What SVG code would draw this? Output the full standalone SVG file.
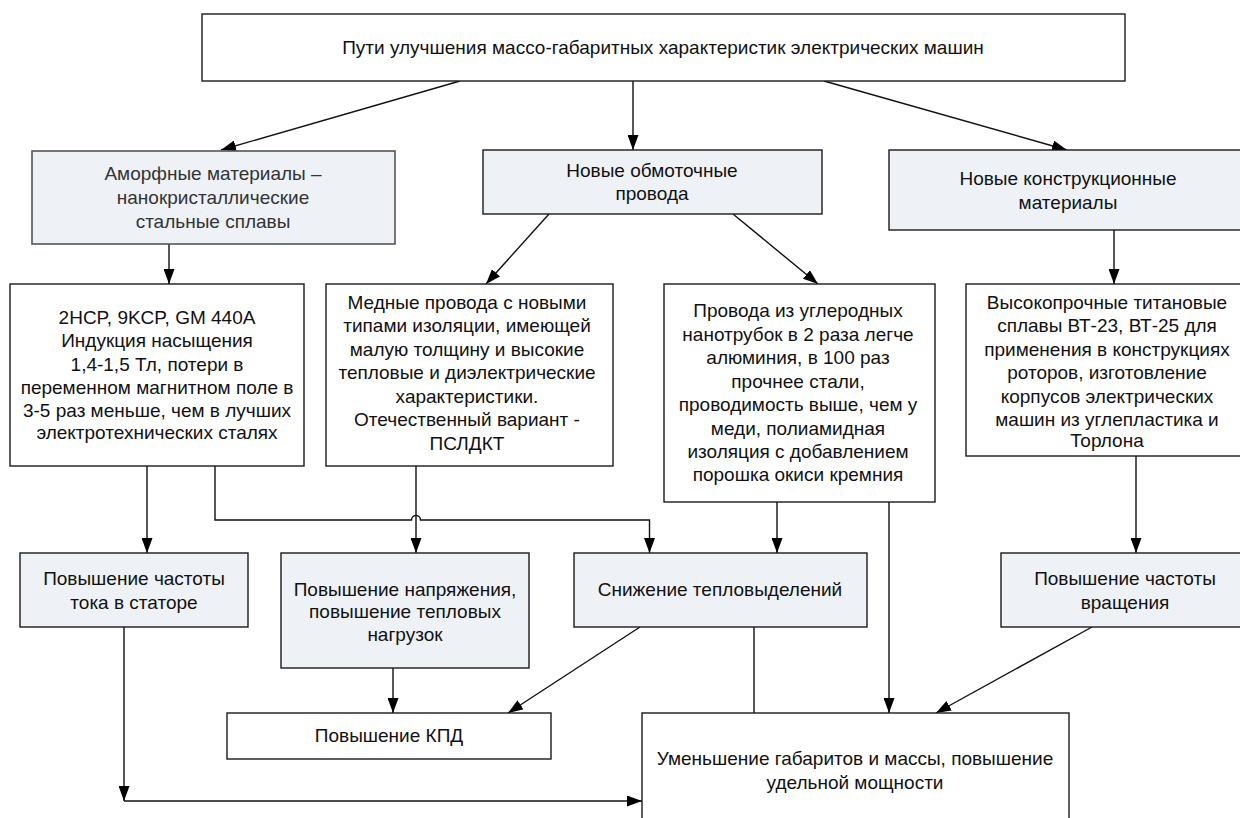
<svg xmlns="http://www.w3.org/2000/svg" width="1240" height="818" viewBox="0 0 1240 818">
<style>
.box{stroke:#1a1a1a;stroke-width:1.4;fill:#ffffff}
.g{fill:#eef1f6}
.am{stroke:#555;stroke-width:1.6}
text{font-family:"Liberation Sans",Arial,sans-serif;font-size:19px;fill:#111;text-anchor:middle}
.amt{fill:#333}
.c{stroke:#111;stroke-width:1.4;fill:none}
.a{marker-end:url(#ah)}
</style>
<defs>
<marker id="ah" viewBox="0 0 15 11" refX="15" refY="5.5" markerWidth="15" markerHeight="11" markerUnits="userSpaceOnUse" orient="auto">
<path d="M0,0 L15,5.5 L0,11 z" fill="#000"/>
</marker>
</defs>
<rect width="1240" height="818" fill="#fff"/>
<g id="connectors">
<line class="c a" x1="460" y1="81" x2="221" y2="150"/>
<line class="c a" x1="633" y1="81" x2="633" y2="150"/>
<line class="c a" x1="824" y1="81" x2="1067" y2="150"/>
<line class="c a" x1="169" y1="244" x2="169" y2="284"/>
<line class="c a" x1="549" y1="214" x2="486" y2="284"/>
<line class="c a" x1="733" y1="214" x2="818" y2="284"/>
<line class="c a" x1="1114" y1="230" x2="1114" y2="284"/>
<line class="c a" x1="147" y1="466" x2="147" y2="553"/>
<path class="c a" d="M215,466 V520 H411.5 A4.5,4.5 0 0 1 420.5,520 H649.5 V553"/>
<line class="c a" x1="416" y1="466" x2="416" y2="553"/>
<line class="c a" x1="777" y1="502" x2="777" y2="553"/>
<line class="c a" x1="889" y1="502" x2="889" y2="713"/>
<line class="c a" x1="1136" y1="456" x2="1136" y2="553"/>
<line class="c a" x1="124" y1="627" x2="124" y2="801"/>
<line class="c a" x1="124" y1="801" x2="642" y2="801"/>
<line class="c a" x1="393" y1="668" x2="393" y2="713"/>
<line class="c a" x1="640" y1="627" x2="508" y2="713"/>
<line class="c" x1="754" y1="627" x2="754" y2="713"/>
<line class="c a" x1="1092" y1="627" x2="936" y2="713"/>
</g>
<g id="top">
<rect class="box" x="202" y="14" width="923" height="67"/>
<text x="663" y="54">Пути улучшения массо-габаритных характеристик электрических машин</text>
</g>
<g id="amorph">
<rect class="box g am" x="32" y="151" width="363" height="93"/>
<text class="amt" x="213" y="180">Аморфные материалы –</text>
<text class="amt" x="213" y="204">нанокристаллические</text>
<text class="amt" x="213" y="228">стальные сплавы</text>
</g>
<g id="wires">
<rect class="box g" x="483" y="150" width="339" height="64"/>
<text x="652" y="177">Новые обмоточные</text>
<text x="652" y="200">провода</text>
</g>
<g id="constr">
<rect class="box g" x="889" y="150" width="360" height="80"/>
<text x="1068" y="185">Новые конструкционные</text>
<text x="1068" y="209">материалы</text>
</g>
<g id="amorph-detail">
<rect class="box" x="10" y="284" width="294" height="182"/>
<text x="157" y="324">2HCP, 9KCP, GM 440A</text>
<text x="157" y="347">Индукция насыщения</text>
<text x="157" y="371">1,4-1,5 Тл, потери в</text>
<text x="157" y="394">переменном магнитном поле в</text>
<text x="157" y="417">3-5 раз меньше, чем в лучших</text>
<text x="157" y="439">электротехнических сталях</text>
</g>
<g id="copper">
<rect class="box" x="326" y="284" width="287" height="182"/>
<text x="467" y="309">Медные провода с новыми</text>
<text x="467" y="332">типами изоляции, имеющей</text>
<text x="467" y="356">малую толщину и высокие</text>
<text x="467" y="379">тепловые и диэлектрические</text>
<text x="467" y="403">характеристики.</text>
<text x="467" y="426">Отечественный вариант -</text>
<text x="467" y="450">ПСЛДКТ</text>
</g>
<g id="nanotube">
<rect class="box" x="664" y="284" width="271" height="218"/>
<text x="798" y="317">Провода из углеродных</text>
<text x="798" y="341">нанотрубок в 2 раза легче</text>
<text x="798" y="364">алюминия, в 100 раз</text>
<text x="798" y="388">прочнее стали,</text>
<text x="798" y="411">проводимость выше, чем у</text>
<text x="798" y="435">меди, полиамидная</text>
<text x="798" y="458">изоляция с добавлением</text>
<text x="798" y="481">порошка окиси кремния</text>
</g>
<g id="titanium">
<rect class="box" x="966" y="284" width="283" height="172"/>
<text x="1107" y="309">Высокопрочные титановые</text>
<text x="1107" y="332">сплавы ВТ-23, ВТ-25 для</text>
<text x="1107" y="356">применения в конструкциях</text>
<text x="1107" y="379">роторов, изготовление</text>
<text x="1107" y="403">корпусов электрических</text>
<text x="1107" y="426">машин из углепластика и</text>
<text x="1107" y="447">Торлона</text>
</g>
<g id="freq-current">
<rect class="box g" x="20" y="553" width="228" height="74"/>
<text x="134" y="585">Повышение частоты</text>
<text x="134" y="609">тока в статоре</text>
</g>
<g id="voltage">
<rect class="box g" x="281" y="553" width="248" height="115"/>
<text x="405" y="596">Повышение напряжения,</text>
<text x="405" y="618">повышение тепловых</text>
<text x="405" y="641">нагрузок</text>
</g>
<g id="heat">
<rect class="box g" x="574" y="553" width="293" height="74"/>
<text x="720" y="596">Снижение тепловыделений</text>
</g>
<g id="freq-rot">
<rect class="box g" x="1001" y="553" width="248" height="74"/>
<text x="1125" y="585">Повышение частоты</text>
<text x="1125" y="609">вращения</text>
</g>
<g id="efficiency">
<rect class="box" x="227" y="713" width="324" height="46"/>
<text x="389" y="742">Повышение КПД</text>
</g>
<g id="result">
<rect class="box" x="642" y="713" width="427" height="120"/>
<text x="855" y="765">Уменьшение габаритов и массы, повышение</text>
<text x="855" y="789">удельной мощности</text>
</g>
</svg>
